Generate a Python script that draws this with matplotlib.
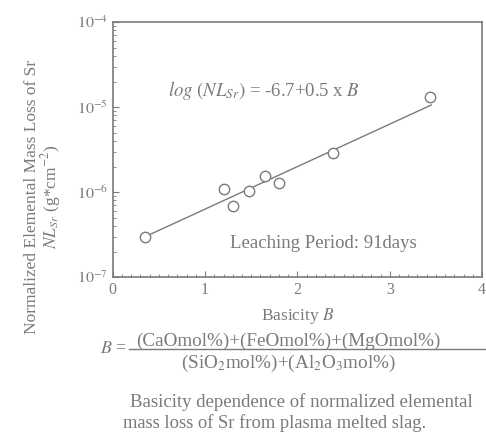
import numpy as np
import matplotlib
matplotlib.use("Agg")
import matplotlib.pyplot as plt
from matplotlib.ticker import MultipleLocator, FixedLocator

plt.rcParams['font.family'] = ['Liberation Serif', 'DejaVu Serif']
plt.rcParams['mathtext.fontset'] = 'stix'

# basicity vs normalized mass loss of Sr
basicity = [0.35, 1.20, 1.30, 1.48, 1.65, 1.80, 2.38, 3.44]
mass_loss = [3.0e-7, 1.1e-6, 6.9e-7, 1.02e-6, 1.55e-6, 1.28e-6, 2.9e-6, 1.3e-5]
fit_a, fit_b = -6.7, 0.5
fit_range = [0.35, 3.45]
y_ticks = [1e-7, 1e-6, 1e-5, 1e-4]
y_labels = ['$10^{-7}$', '$10^{-6}$', '$10^{-5}$', '$10^{-4}$']
x_ticks = [0, 1, 2, 3, 4]

grey = '#7a7a7a'

fig = plt.figure(figsize=(4.86, 4.33), dpi=100)
ax = fig.add_axes([0.232, 0.36, 0.76, 0.589])

bx = np.array(fit_range)
ax.plot(bx, 10 ** (fit_a + fit_b * bx), color=grey, lw=1.0)
ax.plot(basicity, mass_loss, 'o', mfc='white', mec=grey, mew=1.0, ms=7.5)

ax.set_yscale('log')
ax.set_xlim(0, 4)
ax.set_ylim(1e-7, 1e-4)
ax.yaxis.set_major_locator(FixedLocator(y_ticks))
ax.set_yticklabels(y_labels)
ax.set_xticks(x_ticks)
ax.xaxis.set_minor_locator(MultipleLocator(0.1))
ax.tick_params(which='both', direction='in', colors=grey, labelsize=11.5,
               top=False, right=False)
ax.tick_params(which='major', length=4)
ax.tick_params(which='minor', length=2)
for s in ax.spines.values():
    s.set_color(grey)
    s.set_linewidth(1.2)

ax.text(0.15, 0.733, r'$log\ (NL_{Sr})$ = -6.7+0.5 x $B$', transform=ax.transAxes,
        fontsize=13.5, color=grey, va='center')
ax.text(0.318, 0.133, 'Leaching Period: 91days', transform=ax.transAxes,
        fontsize=13.5, color=grey, va='center')

ax.set_xlabel('Basicity $B$', fontsize=12.5, color=grey, labelpad=6)
fig.text(0.066, 0.545, 'Normalized Elemental Mass Loss of Sr', rotation=90,
         ha='center', va='center', fontsize=12.5, color=grey)
fig.text(0.104, 0.545, r'$NL_{Sr}$ (g*cm$^{-2}$)', rotation=90,
         ha='center', va='center', fontsize=12.5, color=grey)

# basicity definition
fig.text(0.206, 0.196, '$B$ =', fontsize=13, color=grey, ha='left', va='center')
fig.text(0.593, 0.212, '(CaOmol%)+(FeOmol%)+(MgOmol%)', fontsize=13.8, color=grey,
         ha='center', va='center')
fig.add_artist(plt.Line2D([0.265, 1.0], [0.193, 0.193], color=grey, lw=1.0))
fig.text(0.593, 0.16, r'(SiO$_2$mol%)+(Al$_2$O$_3$mol%)', fontsize=13.8, color=grey,
         ha='center', va='center')

fig.text(0.62, 0.072, 'Basicity dependence of normalized elemental', fontsize=13.5,
         color=grey, ha='center', va='center')
fig.text(0.253, 0.023, 'mass loss of Sr from plasma melted slag.', fontsize=13.3,
         color=grey, ha='left', va='center')

fig.savefig('out.png', dpi=100)
